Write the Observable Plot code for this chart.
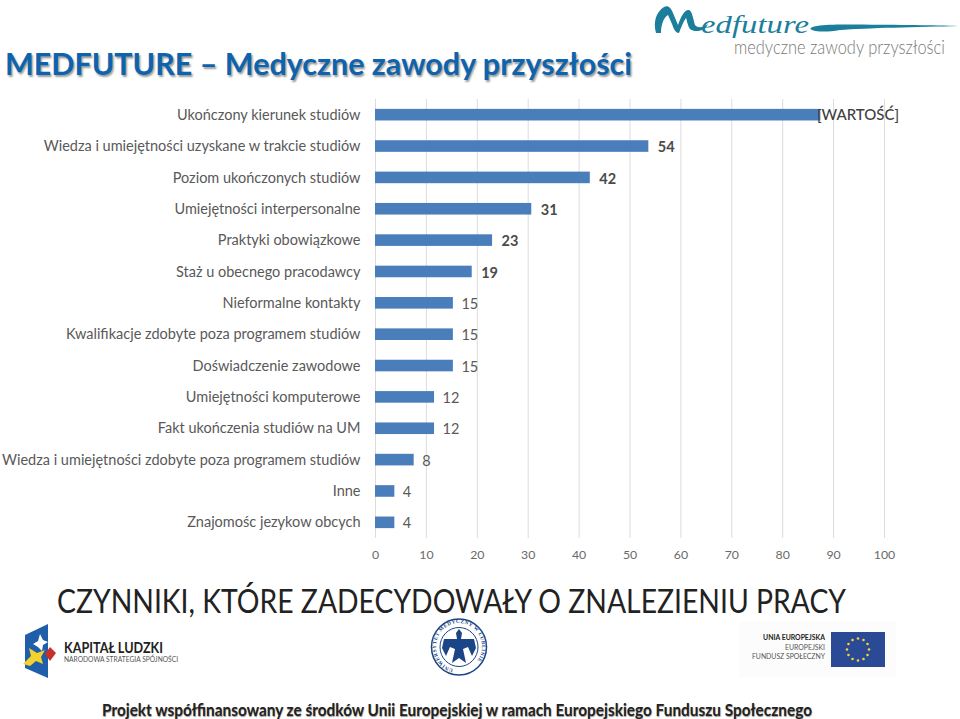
<!DOCTYPE html>
<html lang="pl"><head><meta charset="utf-8">
<script src="https://cdn.jsdelivr.net/npm/d3@7"></script>
<script src="https://cdn.jsdelivr.net/npm/@observablehq/plot@0.6"></script>
<style>
html,body{margin:0;padding:0;background:#fff;overflow:hidden}
body{width:960px;height:719px;position:relative;font-family:Lato,sans-serif}
.a{position:absolute;white-space:nowrap;transform-origin:left center}
#chart{position:absolute;left:0;top:99px}
#chart svg{display:block;background:transparent}
</style></head><body>
<div class="a fit" data-w="627" style="left:5px;top:43px;font-size:31px;line-height:40px;font-weight:700;color:#0d63ae;text-shadow:1.5px 1.5px 2px #9a9a9a">MEDFUTURE – Medyczne zawody przyszłości</div>

<svg class="a" style="left:650px;top:0" width="310" height="40">
<path d="M6 33 C3 22 6 12 14 7 C18 5 21 8 23 13 L28 25 C31 16 35 9 39 10 C42 11 43 18 45 25 C48 29 55 27 58 24 C56 31 45 33 40 29 C37 24 37 20 36 18 C33 22 31 28 29 33 C26 33 24 30 22 24 L18 15 C14 17 11 24 11 33Z" fill="#1b7f9c"/>
<path d="M162 30 C155 26 175 24 205 24.5 C250 25 285 25 308 26 C270 27 215 28 190 30 C178 32 168 32 162 30Z" fill="#1b7f9c"/>
</svg>
<div class="a fit" data-w="108" style="left:701px;top:14px;font:italic 400 25px/22px 'Liberation Serif',serif;color:#1b7f9c">edfuture</div>
<div class="a fit" data-w="211" style="left:734px;top:38px;font-size:19px;line-height:17px;font-weight:300;color:#777">medyczne zawody przyszłości</div>

<div id="chart"></div>

<div class="a fit" data-w="789" style="left:57px;top:579px;font-size:33.4px;line-height:42px;color:#222">CZYNNIKI, KTÓRE ZADECYDOWAŁY O ZNALEZIENIU PRACY</div>

<svg class="a" style="left:18px;top:620px" width="40" height="60">
<path d="M7 15 L30 4 V58 L7 48Z" fill="#1f5ea8"/>
<path d="M5 44 L13 36 L11 28 L19 33 L27 30 L23 37 L25 44 L18 41 L12 46Z" fill="#f2d22f"/>
<path d="M27 34 L32 27 L38 33 L32 41Z" fill="#c9302c"/>
<path d="M15 24 L20 21 L22 14 L25 20 L30 22 L25 25 L24 31 L20 27Z" fill="#fff"/>
</svg>
<div class="a fit" data-w="99" style="left:64px;top:640px;font-size:15.6px;line-height:15px;font-weight:700;color:#222">KAPITAŁ LUDZKI</div>
<div class="a fit" data-w="114" style="left:64px;top:656px;font-size:7.2px;line-height:7px;color:#555">NARODOWA STRATEGIA SPÓJNOŚCI</div>

<svg class="a" style="left:430px;top:618px" width="58" height="60">
<defs><path id="ring" d="M29 52 A23 23.5 0 1 1 29.01 52"/></defs>
<ellipse cx="29" cy="29" rx="27.5" ry="28" fill="#fff" stroke="#1c4587" stroke-width="1.5"/>
<ellipse cx="29" cy="29" rx="19" ry="19.5" fill="none" stroke="#1c4587" stroke-width="1"/>
<text font-size="5.2" font-weight="700" fill="#1c4587" font-family="Liberation Serif" letter-spacing=".5"><textPath href="#ring" startOffset="4%">UNIWERSYTET MEDYCZNY W LUBLINIE</textPath></text>
<path d="M29 11 L32 15 L31 21 L44 21 L46 30 L42 38 L38 29 L33 31 L36 45 L29 40 L22 45 L25 31 L20 29 L16 38 L12 30 L14 21 L27 21 L26 15Z" fill="#1c4587"/>
</svg>

<div class="a" style="left:739px;top:622px;width:157px;height:56px;background:#fcfcfc"></div>
<div class="a" style="left:735px;top:633px;width:90px;text-align:right;font-size:7.8px;line-height:9.6px;color:#555;transform-origin:right center;transform:scaleX(.88)"><b style="color:#222">UNIA EUROPEJSKA</b><br>EUROPEJSKI<br>FUNDUSZ SPOŁECZNY</div>
<svg class="a" style="left:831px;top:632px" width="54" height="35" id="eu"><rect width="54" height="35" fill="#2a4a96"/></svg>

<div class="a fit" data-w="710" style="left:102px;top:698px;font-size:17.2px;line-height:24px;font-weight:700;color:#222;text-shadow:.5px .5px 1px #999">Projekt współfinansowany ze środków Unii Europejskiej w ramach Europejskiego Funduszu Społecznego</div>

<script>
const categories = ["Ukończony kierunek studiów","Wiedza i umiejętności uzyskane w trakcie studiów","Poziom ukończonych studiów","Umiejętności interpersonalne","Praktyki obowiązkowe","Staż u obecnego pracodawcy","Nieformalne kontakty","Kwalifikacje zdobyte poza programem studiów","Doświadczenie zawodowe","Umiejętności komputerowe","Fakt ukończenia studiów na UM","Wiedza i umiejętności zdobyte poza programem studiów","Inne","Znajomośc jezykow obcych"];
const values = [87.5,53.7,42.2,30.7,23,19,15.3,15.3,15.3,11.6,11.6,7.6,3.8,3.8];
const labels = ["[WARTOŚĆ]","54","42","31","23","19","15","15","15","12","12","8","4","4"];
const xTicks = [0,10,20,30,40,50,60,70,80,90,100];
const rows = categories.map((c,i)=>({c,v:values[i],l:labels[i],i}));
const font = "Lato,sans-serif";
const plot = Plot.plot({
  width:960,height:477,
  marginLeft:375,marginRight:76,marginTop:0,marginBottom:38,
  style:{fontFamily:font,background:"transparent",overflow:"visible"},
  x:{domain:[0,100],ticks:xTicks,label:null},
  y:{domain:categories,label:null,paddingInner:.63,paddingOuter:.315,align:.5,round:false},
  marks:[
    Plot.ruleX(xTicks,{stroke:"#dcdcdc",strokeWidth:1}),
    Plot.axisX({ticks:xTicks,tickSize:0,tickPadding:12,label:null,fontSize:12.3,fill:"#6a6a6a"}),
    Plot.axisY({tickSize:0,tickPadding:15,label:null,fontSize:14.5,fill:"#595959",tickFormat:d=>d}),
    Plot.barX(rows,{x:"v",y:"c",fill:"#4a7ebb"}),
    Plot.text(rows.filter(d=>d.i===0),{x:"v",y:"c",text:"l",textAnchor:"start",dx:-4,fontSize:15,fill:"#404040",fontWeight:500}),
    Plot.text(rows.filter(d=>d.i>0&&d.i<6),{x:"v",y:"c",text:"l",textAnchor:"start",dx:9,dy:1,fontSize:14.5,fontWeight:700,fill:"#4a4a4a"}),
    Plot.text(rows.filter(d=>d.i>=6),{x:"v",y:"c",text:"l",textAnchor:"start",dx:8,dy:1,fontSize:14.5,fill:"#595959"})
  ]
});
document.getElementById("chart").appendChild(plot);
const eu=d3.select("#eu");
d3.range(12).forEach(i=>{const t=i*Math.PI/6;eu.append("circle").attr("cx",27+11*Math.cos(t)).attr("cy",17.5+11*Math.sin(t)).attr("r",1.3).attr("fill","#f5d33a");});
document.querySelectorAll(".fit").forEach(el=>{
  const w=el.getBoundingClientRect().width;
  el.style.transform=`scaleX(${(+el.dataset.w)/w})`;
});
</script>
</body></html>
